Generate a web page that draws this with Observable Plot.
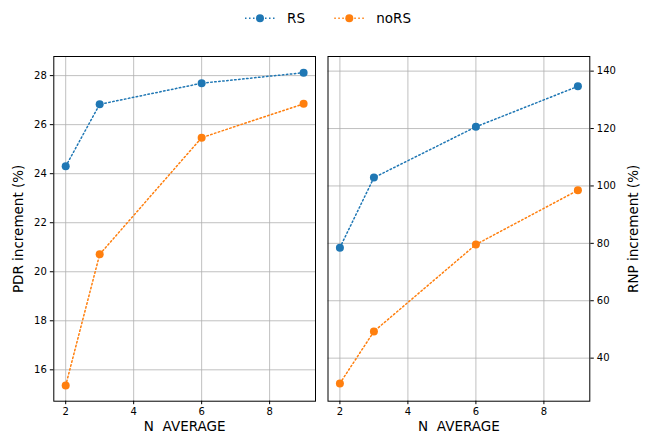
<!DOCTYPE html>
<html>
<head>
<meta charset="utf-8">
<script src="https://cdn.jsdelivr.net/npm/d3@7"></script>
<script src="https://cdn.jsdelivr.net/npm/@observablehq/plot@0.6"></script>
<style>
  html, body { margin: 0; padding: 0; background: #fff; }
  #fig { position: relative; width: 646px; height: 436px; font-family: "DejaVu Sans", sans-serif; }
  #legend { position: absolute; left: 0; top: 0; width: 646px; height: 40px; }
  #left { position: absolute; left: 0; top: 40px; }
  #right { position: absolute; left: 322px; top: 40px; }
</style>
</head>
<body>
<div id="fig">
  <svg id="legend" width="646" height="40"></svg>
  <div id="left"></div>
  <div id="right"></div>
</div>
<script>
// ---- data ----
const nAverage = [2, 3, 6, 9];
const seriesNames = ["RS", "noRS"];
const seriesColors = ["#1f77b4", "#ff7f0e"];
const pdrRS   = [24.30, 26.83, 27.69, 28.12];
const pdrNoRS = [15.36, 20.71, 25.47, 26.85];
const rnpRS   = [78.5, 102.9, 120.6, 134.7];
const rnpNoRS = [31.2, 49.3, 79.6, 98.5];
const xTicks = [2, 4, 6, 8];
const pdrTicks = [16, 18, 20, 22, 24, 26, 28];
const rnpTicks = [40, 60, 80, 100, 120, 140];
const xLabel = "N\u00a0 AVERAGE";
const pdrLabel = "PDR increment (%)";
const rnpLabel = "RNP increment (%)";

function rows(a, b) {
  const out = [];
  nAverage.forEach((x, i) => out.push({x, v: a[i], s: seriesNames[0]}));
  nAverage.forEach((x, i) => out.push({x, v: b[i], s: seriesNames[1]}));
  return out;
}

function panel({data, yDomain, yTicks, yLabel, side, width, mL, mR}) {
  const gridStyle = {stroke: "#b0b0b0", strokeOpacity: 1, strokeWidth: 0.8};
  return Plot.plot({
    width, height: 396,
    marginTop: 16, marginBottom: 35.3, marginLeft: mL, marginRight: mR,
    style: {fontFamily: "DejaVu Sans, sans-serif", fontSize: "10px", color: "black", background: "white"},
    x: {domain: [1.65, 9.35]},
    y: {domain: yDomain},
    color: {domain: seriesNames, range: seriesColors},
    marks: [
      Plot.gridX(xTicks, gridStyle),
      Plot.gridY(yTicks, gridStyle),
      Plot.line(data, {x: "x", y: "v", z: "s", stroke: "s", strokeWidth: 1.5, strokeDasharray: "1.5,2.5"}),
      Plot.dot(data, {x: "x", y: "v", fill: "s", r: 4}),
      Plot.frame({stroke: "black", strokeWidth: 1}),
      Plot.axisX(xTicks, {anchor: "bottom", tickSize: 3.5, tickPadding: 3, label: null}),
      Plot.axisY(yTicks, {anchor: side, tickSize: 3.5, tickPadding: 3.5, label: null}),
      Plot.text([xLabel], {frameAnchor: "bottom", dy: 29.5, fontSize: 13.5, fill: "black", textAnchor: "middle"}),
      Plot.text([yLabel], {frameAnchor: side, dx: side === "left" ? -35.5 : 43.5, rotate: -90, fontSize: 13.5, fill: "black", textAnchor: "middle"})
    ]
  });
}

document.getElementById("left").append(panel({
  data: rows(pdrRS, pdrNoRS), yDomain: [14.72, 28.78], yTicks: pdrTicks, yLabel: pdrLabel,
  side: "left", width: 322, mL: 53.3, mR: 7
}));
document.getElementById("right").append(panel({
  data: rows(rnpRS, rnpNoRS), yDomain: [25.0, 145.1], yTicks: rnpTicks, yLabel: rnpLabel,
  side: "right", width: 324, mL: 5.5, mR: 56.7
}));

// ---- legend ----
const leg = d3.select("#legend");
const legX = [260, 349.3];
seriesNames.forEach((name, i) => {
  const g = leg.append("g").attr("transform", `translate(${legX[i]},18.3)`);
  g.append("line").attr("x1", -15).attr("x2", 15).attr("y1", 0).attr("y2", 0)
    .attr("stroke", seriesColors[i]).attr("stroke-width", 1.5).attr("stroke-dasharray", "1.5,2.5");
  g.append("circle").attr("r", 4).attr("fill", seriesColors[i]);
  g.append("text").attr("x", 27).attr("y", 0).attr("dy", "0.35em")
    .attr("font-family", "DejaVu Sans, sans-serif").attr("font-size", 13.5).attr("fill", "black").text(name);
});
</script>
</body>
</html>
